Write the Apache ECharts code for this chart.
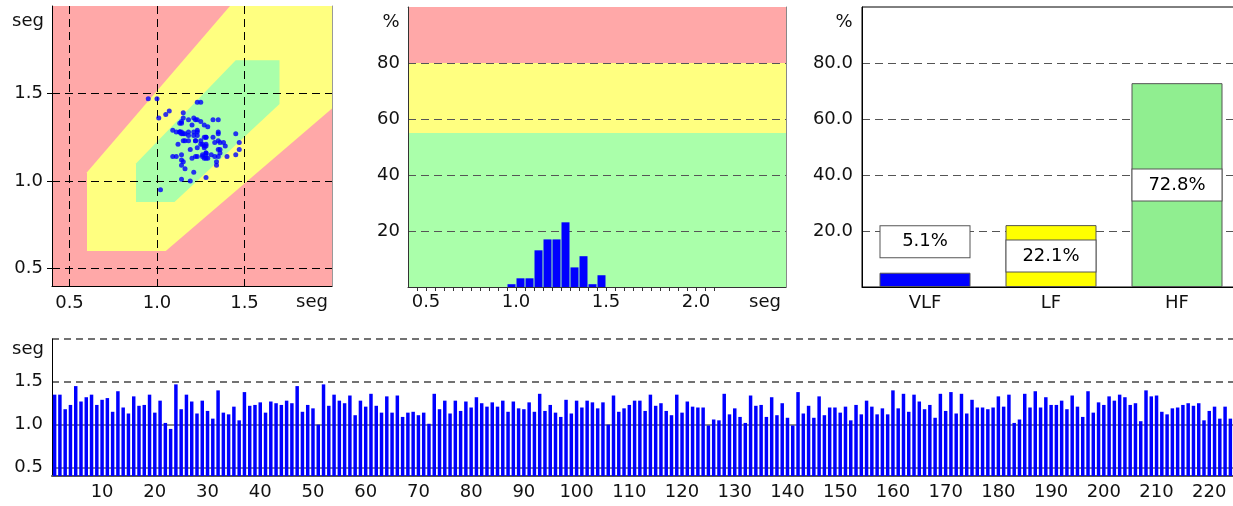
<!DOCTYPE html>
<html>
<head>
<meta charset="utf-8">
<script src="https://cdn.jsdelivr.net/npm/echarts@6/dist/echarts.min.js"></script>
<style>
  html, body { margin: 0; padding: 0; background: #fff; }
  #chart { width: 1233px; height: 506px; }
</style>
</head>
<body>
<div id="chart"></div>
<script>
// RR intervals (seconds), one value per beat
const rrIntervals = [
  1.35, 1.35, 1.18, 1.23, 1.45, 1.27, 1.32, 1.35, 1.23, 1.29,
  1.31, 1.15, 1.39, 1.20, 1.13, 1.33, 1.22, 1.23, 1.35, 1.14,
  1.28, 1.02, 0.95, 1.47, 1.18, 1.35, 1.27, 1.13, 1.28, 1.16,
  1.07, 1.40, 1.14, 1.12, 1.21, 1.05, 1.38, 1.22, 1.23, 1.26,
  1.14, 1.27, 1.25, 1.23, 1.28, 1.25, 1.45, 1.15, 1.23, 1.19,
  1.00, 1.47, 1.22, 1.35, 1.28, 1.25, 1.34, 1.11, 1.28, 1.21,
  1.36, 1.22, 1.14, 1.33, 1.14, 1.34, 1.09, 1.14, 1.15, 1.11,
  1.14, 1.01, 1.36, 1.18, 1.28, 1.13, 1.28, 1.16, 1.27, 1.20,
  1.32, 1.25, 1.21, 1.26, 1.21, 1.28, 1.15, 1.27, 1.19, 1.18,
  1.26, 1.15, 1.36, 1.16, 1.23, 1.14, 1.09, 1.29, 1.13, 1.28,
  1.20, 1.28, 1.26, 1.19, 1.26, 1.00, 1.34, 1.15, 1.19, 1.23,
  1.28, 1.28, 1.16, 1.35, 1.22, 1.25, 1.16, 1.11, 1.35, 1.14,
  1.27, 1.21, 1.20, 1.20, 0.99, 1.06, 1.05, 1.36, 1.12, 1.19,
  1.09, 1.02, 1.34, 1.22, 1.23, 1.09, 1.32, 1.11, 1.25, 1.08,
  0.99, 1.38, 1.13, 1.22, 1.08, 1.33, 1.11, 1.20, 1.20, 1.14,
  1.21, 1.05, 1.23, 1.12, 1.28, 1.21, 1.12, 1.19, 1.12, 1.40,
  1.19, 1.36, 1.15, 1.35, 1.27, 1.18, 1.23, 1.08, 1.36, 1.16,
  1.38, 1.13, 1.36, 1.13, 1.29, 1.20, 1.20, 1.18, 1.20, 1.33,
  1.21, 1.35, 1.02, 1.06, 1.36, 1.20, 1.39, 1.20, 1.32, 1.23,
  1.23, 1.28, 1.18, 1.34, 1.21, 1.09, 1.39, 1.14, 1.26, 1.23,
  1.33, 1.28, 1.35, 1.32, 1.23, 1.25, 1.04, 1.40, 1.33, 1.34,
  1.15, 1.12, 1.19, 1.20, 1.23, 1.25, 1.22, 1.25, 1.05, 1.16,
  1.21, 1.07, 1.21, 1.07
];
const beatLabels = rrIntervals.map((_, i) => String(i + 1));

// Poincaré plot: RR(n) against RR(n+1) for the first successive pairs
const poincarePairCount = 100;

// Histogram of RR intervals: bin starts (s), bin width (s), share of beats (%)
const histBinStart = [0.95, 1.00, 1.05, 1.10, 1.15, 1.20, 1.25, 1.30, 1.35, 1.40, 1.45];
const histBinWidth = 0.05;
const histPercent = [1.0, 3.1, 3.1, 13.1, 17.0, 17.0, 23.1, 7.0, 11.0, 1.0, 4.2];

// Spectral power per band (%)
const bandNames = ['VLF', 'LF', 'HF'];
const bandPercent = [5.1, 22.1, 72.8];

// Reference zones of the Poincaré plot (seg, seg)
const poincareYellowZone = [[0.6, 1.05], [0.6, 0.6], [1.05, 0.6], [2.0, 1.415], [2.0, 2.0], [1.417, 2.0]];
const poincareGreenZone = [[0.88, 1.1], [0.88, 0.88], [1.1, 0.88], [1.7, 1.44], [1.7, 1.69], [1.45, 1.69]];
// Reference zones of the histogram (%): [from, to]
const histZones = [[0, 55], [55, 80], [80, 100]];

// Tick values
const segTicks = [0.5, 1.0, 1.5];
const histSegTicks = [0.5, 1.0, 1.5, 2.0];
const pctTicks = [20, 40, 60, 80];
const rrDashedTicks = [1.5, 2.0];
const rrSolidTicks = [0.5, 1.0];

// ---- drawing ----
const RED = '#FFA8A8', YELLOW = '#FFFF80', GREEN = '#AAFFAA';
const histZoneColors = [GREEN, YELLOW, RED];
const bandColors = ['#0000FF', '#FFFF00', '#90EE90'];
const FONT = 'DejaVu Sans';
const txt = { fontFamily: FONT, fontSize: 18, color: '#111' };
const dashed = (color) => ({ show: true, lineStyle: { color: color, width: 1, type: [8, 5] } });
const noSplit = { show: false };

const histMinorTicks = [];
for (let k = 9; k <= 42; k++) histMinorTicks.push(k / 20);

const poincarePoints = [];
for (let i = 0; i < poincarePairCount; i++) {
  poincarePoints.push([rrIntervals[i], rrIntervals[i + 1]]);
}

function zonePolygon(points, color) {
  return {
    type: 'custom', xAxisIndex: 0, yAxisIndex: 0, z: 1, silent: true, clip: true,
    data: [[1, 1]],
    renderItem: (params, api) => ({
      type: 'polygon',
      shape: { points: points.map(p => api.coord(p)) },
      style: { fill: color }
    })
  };
}

function borderAxis(gridIndex, position, color) {
  return {
    gridIndex: gridIndex, type: 'value', position: position, min: 0, max: 1,
    axisLine: { show: true, onZero: false, lineStyle: { color: color, width: 1 } },
    axisTick: { show: false }, axisLabel: { show: false }, splitLine: noSplit
  };
}

const option = {
  animation: false,
  backgroundColor: '#fff',
  textStyle: { fontFamily: FONT },
  grid: [
    { left: 52, top: 6, width: 280, height: 280, show: true, backgroundColor: RED, borderWidth: 0, outerBoundsMode: 'none' },
    { left: 408, top: 7, width: 378, height: 280, outerBoundsMode: 'none' },
    { left: 862, top: 7, width: 378, height: 280, show: true, borderColor: '#000', borderWidth: 1, backgroundColor: 'transparent', outerBoundsMode: 'none' },
    { left: 52, top: 339, width: 1181, height: 137, outerBoundsMode: 'none' }
  ],
  xAxis: [
    { // Poincaré RR(n)
      gridIndex: 0, type: 'value', min: 0.4, max: 2.0, z: 3,
      axisLine: { show: true, onZero: false, lineStyle: { color: '#000' } },
      axisTick: { show: false, customValues: segTicks },
      axisLabel: Object.assign({}, txt, { margin: 8, customValues: segTicks, formatter: v => v.toFixed(1) }),
      splitLine: dashed('#000')
    },
    { // histogram RR
      gridIndex: 1, type: 'value', min: 0.4, max: 2.5, z: 3,
      axisLine: { show: true, onZero: false, lineStyle: { color: '#333' } },
      axisTick: { show: true, length: 4, customValues: histMinorTicks, lineStyle: { color: '#333' } },
      axisLabel: Object.assign({}, txt, { margin: 6, customValues: histSegTicks, formatter: v => v.toFixed(1) }),
      splitLine: noSplit
    },
    borderAxis(1, 'top', '#888'),
    { // spectral bands
      gridIndex: 2, type: 'category', data: bandNames,
      axisLine: { show: true, lineStyle: { color: '#000' } },
      axisTick: { show: false },
      axisLabel: Object.assign({}, txt, { margin: 7 }),
      splitLine: noSplit
    },
    { // beat index
      gridIndex: 3, type: 'category', data: beatLabels,
      axisLine: { show: true, lineStyle: { color: '#555', width: 2 } },
      axisTick: { show: false },
      axisLabel: Object.assign({}, txt, { margin: 7, interval: (i) => (i + 1) % 10 === 0 }),
      splitLine: noSplit
    }
  ],
  yAxis: [
    { // Poincaré RR(n+1)
      gridIndex: 0, type: 'value', min: 0.4, max: 2.0, z: 3,
      axisLine: { show: true, onZero: false, lineStyle: { color: '#000' } },
      axisTick: { show: true, length: 5, customValues: segTicks, lineStyle: { color: '#000' } },
      axisLabel: Object.assign({}, txt, { margin: 9, customValues: segTicks, formatter: v => v.toFixed(1) }),
      splitLine: dashed('#000')
    },
    borderAxis(0, 'right', '#999'),
    { // histogram share
      gridIndex: 1, type: 'value', min: 0, max: 100, z: 3,
      axisLine: { show: true, onZero: false, lineStyle: { color: '#333' } },
      axisTick: { show: false, customValues: pctTicks },
      axisLabel: Object.assign({}, txt, { margin: 8, customValues: pctTicks }),
      splitLine: dashed('#555')
    },
    borderAxis(1, 'right', '#888'),
    { // band share
      gridIndex: 2, type: 'value', min: 0, max: 100,
      axisLine: { show: true, onZero: false, lineStyle: { color: '#000' } },
      axisTick: { show: false, customValues: pctTicks },
      axisLabel: Object.assign({}, txt, { margin: 9, customValues: pctTicks, formatter: v => v.toFixed(1) }),
      splitLine: dashed('#555')
    },
    { // RR tachogram, dashed guides
      gridIndex: 3, type: 'value', min: 0.4, max: 2.0, position: 'left',
      axisLine: { show: true, onZero: false, lineStyle: { color: '#000' } },
      axisTick: { show: false, customValues: rrDashedTicks },
      axisLabel: Object.assign({}, txt, { margin: 9, customValues: segTicks, formatter: v => v.toFixed(1) }),
      splitLine: { show: true, lineStyle: { color: '#444', width: 1.5, type: [7, 5] } }
    },
    { // RR tachogram, solid guides
      gridIndex: 3, type: 'value', min: 0.4, max: 2.0, position: 'left',
      axisLine: { show: false }, axisLabel: { show: false },
      axisTick: { show: false, customValues: rrSolidTicks },
      splitLine: { show: true, lineStyle: { color: '#8a8a8a', width: 2 } }
    }
  ],
  series: [
    zonePolygon(poincareYellowZone, YELLOW),
    zonePolygon(poincareGreenZone, GREEN),
    {
      type: 'scatter', xAxisIndex: 0, yAxisIndex: 0, z: 5, silent: true,
      symbol: 'circle', symbolSize: 5,
      itemStyle: { color: '#0000FF' },
      data: poincarePoints
    },
    { // histogram zones
      type: 'custom', xAxisIndex: 1, yAxisIndex: 2, z: 1, silent: true,
      data: histZones.map((zn, i) => [zn[0], zn[1], i]),
      renderItem: (params, api) => {
        const cs = params.coordSys;
        const top = api.coord([1, api.value(1)])[1];
        const bottom = api.coord([1, api.value(0)])[1];
        return {
          type: 'rect',
          shape: { x: cs.x, y: top, width: cs.width, height: bottom - top },
          style: { fill: histZoneColors[api.value(2)] }
        };
      }
    },
    { // histogram bars
      type: 'custom', xAxisIndex: 1, yAxisIndex: 2, z: 5, silent: true,
      data: histBinStart.map((s, i) => [s, histPercent[i]]),
      encode: { x: 0, y: 1 },
      renderItem: (params, api) => {
        const s = api.value(0), v = api.value(1);
        const a = api.coord([s, v]);
        const b = api.coord([s + histBinWidth, 0]);
        return {
          type: 'rect',
          shape: { x: a[0] + 0.5, y: a[1], width: b[0] - a[0] - 1, height: b[1] - a[1] },
          style: { fill: '#0000FF' }
        };
      }
    },
    { // spectral bands
      type: 'bar', xAxisIndex: 3, yAxisIndex: 4, barWidth: 91, silent: true,
      itemStyle: { borderColor: '#555', borderWidth: 1 },
      label: {
        show: true, position: 'inside',
        formatter: p => p.value.toFixed(1) + '%',
        fontFamily: FONT, fontSize: 18, color: '#000',
        backgroundColor: '#fff', borderColor: '#555', borderWidth: 1,
        width: 89, height: 31, lineHeight: 31, padding: 0,
        align: 'center', verticalAlign: 'middle'
      },
      data: bandPercent.map((v, i) => {
        const item = { value: v, itemStyle: { color: bandColors[i] } };
        // a band too short to hold its label gets it above the bar
        if (v < 12) item.label = { position: 'top', distance: 31 };
        return item;
      })
    },
    { // RR tachogram
      type: 'bar', xAxisIndex: 4, yAxisIndex: 5, silent: true,
      barCategoryGap: '34%',
      itemStyle: { color: '#0000FF' },
      data: rrIntervals
    }
  ],
  graphic: [
    { type: 'text', x: 28, y: 21, style: { text: 'seg', fontFamily: FONT, fontSize: 18, fill: '#111', align: 'center', verticalAlign: 'middle' } },
    { type: 'text', x: 312, y: 302, style: { text: 'seg', fontFamily: FONT, fontSize: 18, fill: '#111', align: 'center', verticalAlign: 'middle' } },
    { type: 'text', x: 391, y: 22, style: { text: '%', fontFamily: FONT, fontSize: 18, fill: '#111', align: 'center', verticalAlign: 'middle' } },
    { type: 'text', x: 765, y: 302, style: { text: 'seg', fontFamily: FONT, fontSize: 18, fill: '#111', align: 'center', verticalAlign: 'middle' } },
    { type: 'text', x: 844, y: 22, style: { text: '%', fontFamily: FONT, fontSize: 18, fill: '#111', align: 'center', verticalAlign: 'middle' } },
    { type: 'text', x: 28, y: 349, style: { text: 'seg', fontFamily: FONT, fontSize: 18, fill: '#111', align: 'center', verticalAlign: 'middle' } }
  ]
};

const chart = echarts.init(document.getElementById('chart'), null, { renderer: 'canvas' });
chart.setOption(option);
</script>
</body>
</html>
